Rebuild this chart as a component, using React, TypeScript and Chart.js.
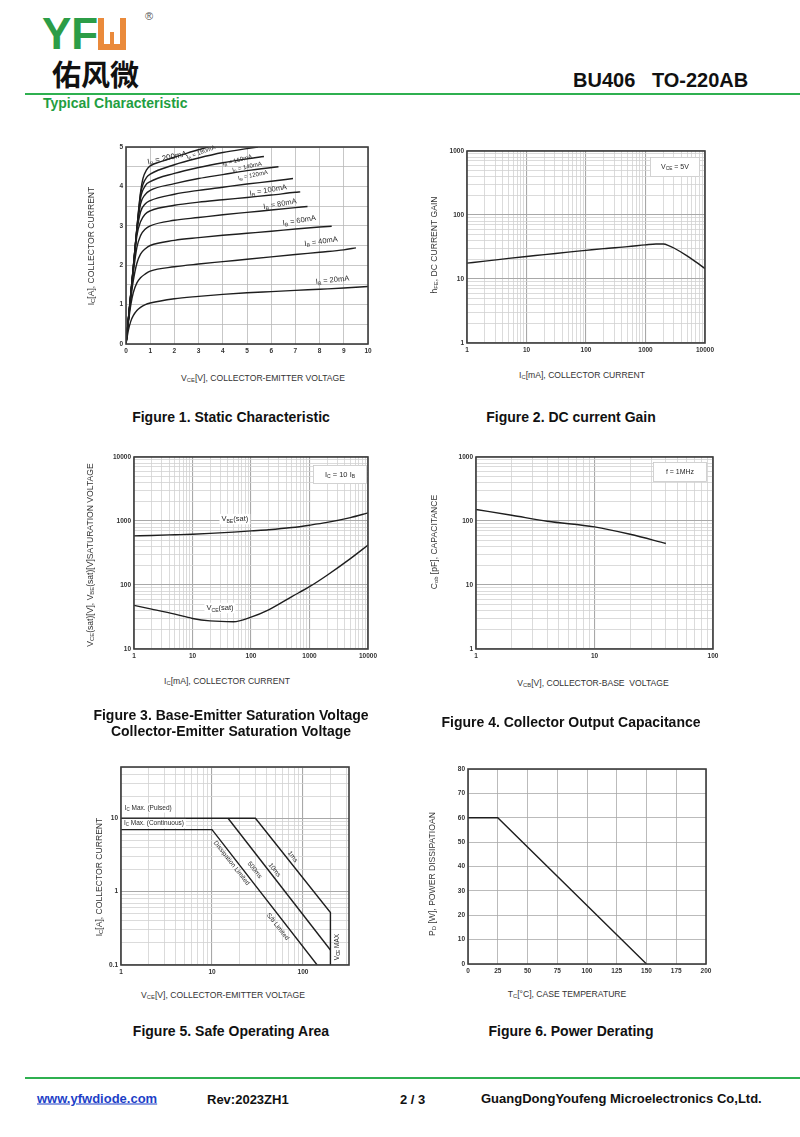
import React, { useEffect, useRef } from 'react';
import Chart from 'chart.js/auto';

const FONT = '"Liberation Sans", Arial, Helvetica, sans-serif';
const CJK = '"Noto Sans CJK SC", "Noto Sans CJK TC", sans-serif';

// ---------------- Figure 1: static characteristic (VCE [V], IC [A]) ----------------
const fig1Ib20 = [[0, 0], [0.1, 0.35], [0.2, 0.58], [0.3, 0.72], [0.45, 0.85], [0.6, 0.93], [0.8, 1.0], [1, 1.04], [2, 1.15], [3, 1.21], [4, 1.26], [5, 1.3], [6, 1.33], [7, 1.36], [8, 1.39], [9, 1.42], [10, 1.46]];
const fig1Ib40 = [[0, 0], [0.1, 0.55], [0.2, 1.0], [0.3, 1.3], [0.45, 1.55], [0.6, 1.68], [0.8, 1.78], [1, 1.85], [2, 1.96], [3, 2.03], [4, 2.09], [5, 2.15], [6, 2.21], [7, 2.27], [8, 2.33], [9, 2.39], [9.5, 2.44]];
const fig1Ib60 = [[0, 0], [0.1, 0.6], [0.2, 1.15], [0.3, 1.6], [0.45, 2.05], [0.6, 2.28], [0.8, 2.42], [1, 2.5], [2, 2.63], [3, 2.7], [4, 2.76], [5, 2.81], [6, 2.86], [7, 2.92], [8, 2.97], [8.5, 2.99]];
const fig1Ib80 = [[0, 0], [0.1, 0.62], [0.2, 1.22], [0.3, 1.8], [0.45, 2.45], [0.6, 2.75], [0.8, 2.92], [1, 3.0], [2, 3.14], [3, 3.21], [4, 3.28], [5, 3.34], [6, 3.4], [7, 3.46], [7.5, 3.49]];
const fig1Ib100 = [[0, 0], [0.1, 0.63], [0.2, 1.25], [0.3, 1.88], [0.45, 2.75], [0.6, 3.1], [0.8, 3.3], [1, 3.38], [2, 3.52], [3, 3.6], [4, 3.66], [5, 3.72], [6, 3.78], [7, 3.85], [7.2, 3.86]];
const fig1Ib120 = [[0, 0], [0.1, 0.63], [0.2, 1.26], [0.3, 1.9], [0.45, 2.85], [0.6, 3.35], [0.8, 3.56], [1, 3.64], [2, 3.8], [3, 3.9], [4, 3.98], [5, 4.06], [6, 4.13], [6.9, 4.2]];
const fig1Ib140 = [[0, 0], [0.1, 0.64], [0.2, 1.27], [0.3, 1.92], [0.45, 2.9], [0.6, 3.55], [0.8, 3.8], [1, 3.9], [2, 4.07], [3, 4.2], [4, 4.3], [5, 4.4], [6.3, 4.5]];
const fig1Ib160 = [[0, 0], [0.1, 0.64], [0.2, 1.28], [0.3, 1.93], [0.45, 2.92], [0.6, 3.7], [0.8, 4.02], [1, 4.12], [2, 4.33], [3, 4.48], [4, 4.6], [5, 4.7], [5.7, 4.76]];
const fig1Ib180 = [[0, 0], [0.1, 0.65], [0.2, 1.29], [0.3, 1.94], [0.45, 2.93], [0.6, 3.8], [0.7, 4.05], [0.85, 4.23], [1, 4.31], [2, 4.55], [3, 4.72], [4, 4.86], [5, 4.96], [5.45, 5.0]];
const fig1Ib200 = [[0, 0], [0.1, 0.65], [0.2, 1.3], [0.3, 1.95], [0.45, 2.95], [0.6, 3.85], [0.7, 4.2], [0.85, 4.42], [1, 4.52], [1.5, 4.64], [2, 4.74], [2.5, 4.84], [3, 4.93], [3.4, 5.0]];
const fig1Curves = [fig1Ib20, fig1Ib40, fig1Ib60, fig1Ib80, fig1Ib100, fig1Ib120, fig1Ib140, fig1Ib160, fig1Ib180, fig1Ib200];
const fig1LabelText = ['200mA', '180mA', '160mA', '140mA', '120mA', '100mA', '80mA', '60mA', '40mA', '20mA'];
const fig1LabelV = [1.7, 3.1, 4.6, 5.0, 5.25, 5.88, 6.36, 7.16, 8.06, 8.53];
const fig1LabelI = [4.72, 4.86, 4.66, 4.49, 4.28, 3.9, 3.55, 3.13, 2.6, 1.62];
const fig1LabelRot = [-12, -20, -15, -13, -12, -10, -10, -9, -8, -6];
const fig1XTicks = [0, 1, 2, 3, 4, 5, 6, 7, 8, 9, 10];
const fig1YTicks = [0, 0.5, 1, 1.5, 2, 2.5, 3, 3.5, 4, 4.5, 5];
const fig1YLabels = [0, 1, 2, 3, 4, 5];

// ---------------- Figure 2: DC current gain ----------------
const fig2Ic = [1, 2, 5, 10, 20, 50, 100, 200, 500, 1000, 1500, 2000, 2500, 3000, 5000, 7000, 10000];
const fig2Hfe = [17.7, 19, 21, 22.5, 24, 26.3, 28, 29.8, 32, 34.2, 35.3, 35.2, 33, 30.5, 23, 18.5, 14.5];
const decadeTicks1to10000 = [1, 2, 3, 4, 5, 6, 7, 8, 9, 10, 20, 30, 40, 50, 60, 70, 80, 90, 100, 200, 300, 400, 500, 600, 700, 800, 900, 1000, 2000, 3000, 4000, 5000, 6000, 7000, 8000, 9000, 10000];
const decadeLabels1to10000 = [1, 10, 100, 1000, 10000];
const decadeTicks1to1000 = [1, 2, 3, 4, 5, 6, 7, 8, 9, 10, 20, 30, 40, 50, 60, 70, 80, 90, 100, 200, 300, 400, 500, 600, 700, 800, 900, 1000];
const decadeLabels1to1000 = [1, 10, 100, 1000];

// ---------------- Figure 3: saturation voltages ----------------
const fig3Ic = [1, 2, 5, 10, 20, 50, 100, 200, 500, 1000, 2000, 5000, 10000];
const fig3Vbe = [586, 595, 610, 622, 640, 670, 700, 730, 790, 860, 950, 1130, 1340];
const fig3Vce = [48, 42, 35, 30, 27.5, 26.7, 31.5, 41, 66, 94, 142, 258, 420];
const decadeTicks10to10000 = [10, 20, 30, 40, 50, 60, 70, 80, 90, 100, 200, 300, 400, 500, 600, 700, 800, 900, 1000, 2000, 3000, 4000, 5000, 6000, 7000, 8000, 9000, 10000];
const decadeLabels10to10000 = [10, 100, 1000, 10000];

// ---------------- Figure 4: output capacitance ----------------
const fig4Vcb = [1, 2, 4, 10, 20, 40];
const fig4Cob = [151, 123, 99, 81, 62, 44.5];
const decadeTicks1to100 = [1, 2, 3, 4, 5, 6, 7, 8, 9, 10, 20, 30, 40, 50, 60, 70, 80, 90, 100];
const decadeLabels1to100 = [1, 10, 100];

// ---------------- Figure 5: safe operating area ----------------
const soa1msV = [1, 30, 200, 200];
const soa1msI = [10, 10, 0.52, 0.1];
const soa10msV = [15, 200];
const soa10msI = [10, 0.16];
const soaDcV = [1, 10, 143];
const soaDcI = [7, 7, 0.1];
const fig5XTicks = [1, 2, 3, 4, 5, 6, 7, 8, 9, 10, 20, 30, 40, 50, 60, 70, 80, 90, 100, 200, 300];
const fig5XLabels = [1, 10, 100];
const fig5YTicks = [0.1, 0.2, 0.3, 0.4, 0.5, 0.6, 0.7, 0.8, 0.9, 1, 2, 3, 4, 5, 6, 7, 8, 9, 10, 20, 30, 40, 50];
const fig5YLabels = [0.1, 1, 10];

// ---------------- Figure 6: power derating ----------------
const fig6Tc = [0, 25, 150];
const fig6Pd = [60, 60, 0];
const fig6XTicks = [0, 25, 50, 75, 100, 125, 150, 175, 200];
const fig6YTicks = [0, 10, 20, 30, 40, 50, 60, 70, 80];

// ---------------- layout ----------------
const PAD_L = 40, PAD_T = 10, PAD_R = 24, PAD_B = 22;

type Seg = [string, boolean?];

function drawSegs(ctx: any, segs: Seg[], size: number, cx: number, cy: number, rot: number, bg: boolean, align: string) {
  ctx.save();
  ctx.translate(cx, cy);
  ctx.rotate((rot * Math.PI) / 180);
  const widths = segs.map(([t, sub]) => {
    ctx.font = `${sub ? size * 0.68 : size}px ${FONT}`;
    return ctx.measureText(t).width;
  });
  const total = widths.reduce((a, b) => a + b, 0);
  let x = align === 'center' ? -total / 2 : 0;
  if (bg) {
    ctx.fillStyle = '#fff';
    ctx.fillRect(x - 2, -size * 0.7, total + 4, size * 1.4);
  }
  ctx.fillStyle = '#2a2a2a';
  ctx.textBaseline = 'middle';
  ctx.textAlign = 'left';
  segs.forEach(([t, sub], i) => {
    ctx.font = `${sub ? size * 0.68 : size}px ${FONT}`;
    ctx.fillText(t, x, sub ? size * 0.28 : 0);
    x += widths[i];
  });
  ctx.restore();
}

function annotPlugin(texts: any[], boxes: any[]) {
  return {
    id: 'annot',
    afterDatasetsDraw(chart: any) {
      const ctx = chart.ctx;
      const ca = chart.chartArea;
      const xs = chart.scales.x;
      const ys = chart.scales.y;
      boxes.forEach((b) => {
        const x0 = ca.right - b.right - b.w;
        const y0 = ca.top + b.top;
        ctx.save();
        ctx.fillStyle = '#fff';
        ctx.fillRect(x0, y0, b.w, b.h);
        ctx.strokeStyle = '#c8c8c8';
        ctx.lineWidth = 0.8;
        ctx.strokeRect(x0 + 0.5, y0 + 0.5, b.w - 1, b.h - 1);
        ctx.restore();
        drawSegs(ctx, b.segs, b.size, x0 + b.w / 2, y0 + b.h / 2, 0, false, 'center');
      });
      texts.forEach((t) => {
        drawSegs(ctx, t.segs, t.size, xs.getPixelForValue(t.x), ys.getPixelForValue(t.y), t.rot || 0, !!t.bg, t.align || 'center');
      });
    },
    afterDraw(chart: any) {
      const ca = chart.chartArea;
      const ctx = chart.ctx;
      ctx.save();
      ctx.strokeStyle = '#3c3c3c';
      ctx.lineWidth = 1.6;
      ctx.strokeRect(ca.left, ca.top, ca.right - ca.left, ca.bottom - ca.top);
      ctx.restore();
    },
  };
}

function fmt(v: number) {
  return String(v);
}

function makeScale(axisId: string, type: string, min: number, max: number, tickVals: number[], labelVals: number[], majorVals: number[], minorColor: string, majorColor: string) {
  return {
    type,
    min,
    max,
    position: axisId === 'x' ? 'bottom' : 'left',
    afterBuildTicks: (s: any) => {
      s.ticks = tickVals.map((v) => ({ value: v }));
    },
    afterFit: (s: any) => {
      if (axisId === 'x') s.height = PAD_B;
      else s.width = PAD_L;
    },
    grid: {
      drawTicks: false,
      color: (c: any) => (c.tick && majorVals.includes(c.tick.value) ? majorColor : minorColor),
      lineWidth: (c: any) => (c.tick && majorVals.includes(c.tick.value) ? 1.1 : 0.8),
    },
    border: { display: false },
    ticks: {
      autoSkip: false,
      maxRotation: 0,
      minRotation: 0,
      padding: 3,
      color: '#333',
      font: { family: FONT, size: 6.5, weight: 'bold' },
      callback: (v: any) => (labelVals.includes(v) ? fmt(v) : ''),
    },
  };
}

function lineSet(points: { x: number; y: number }[], smooth: boolean) {
  return {
    data: points,
    showLine: true,
    borderColor: '#1e1e1e',
    borderWidth: 1.4,
    pointRadius: 0,
    fill: false,
    cubicInterpolationMode: smooth ? 'monotone' : 'default',
    tension: 0,
  };
}

function zip(xs: number[], ys: number[]) {
  return xs.map((x, i) => ({ x, y: ys[i] }));
}

function baseConfig(datasets: any[], xScale: any, yScale: any, texts: any[], boxes: any[]) {
  return {
    type: 'scatter',
    data: { datasets },
    options: {
      animation: false,
      responsive: false,
      layout: { padding: { left: 0, top: PAD_T, right: PAD_R, bottom: 0 } },
      plugins: { legend: { display: false }, tooltip: { enabled: false } },
      scales: { x: xScale, y: yScale },
      elements: { point: { radius: 0 } },
    },
    plugins: [annotPlugin(texts, boxes)],
  };
}

const ib = (t: string): Seg[] => [['I'], ['B', true], [' = ' + t]];

function fig1Config() {
  const ds = fig1Curves.map((c) => lineSet(c.map(([x, y]) => ({ x, y })), true));
  const texts = fig1LabelText.map((t, i) => ({
    x: fig1LabelV[i],
    y: fig1LabelI[i],
    segs: ib(t),
    size: i === 0 ? 8 : i < 5 ? 6 : 7.5,
    rot: fig1LabelRot[i],
  }));
  return baseConfig(
    ds,
    makeScale('x', 'linear', 0, 10, fig1XTicks, fig1XTicks, [], '#b9b9b9', '#b9b9b9'),
    makeScale('y', 'linear', 0, 5, fig1YTicks, fig1YLabels, [], '#b9b9b9', '#b9b9b9'),
    texts,
    []
  );
}

function fig2Config() {
  return baseConfig(
    [lineSet(zip(fig2Ic, fig2Hfe), true)],
    makeScale('x', 'logarithmic', 1, 10000, decadeTicks1to10000, decadeLabels1to10000, decadeLabels1to10000, '#d2d2d2', '#a8a8a8'),
    makeScale('y', 'logarithmic', 1, 1000, decadeTicks1to1000, decadeLabels1to1000, decadeLabels1to1000, '#d2d2d2', '#a8a8a8'),
    [],
    [{ right: 5, top: 6, w: 50, h: 20, size: 7, segs: [['V'], ['CE', true], [' = 5V']] }]
  );
}

function fig3Config() {
  return baseConfig(
    [lineSet(zip(fig3Ic, fig3Vbe), true), lineSet(zip(fig3Ic, fig3Vce), true)],
    makeScale('x', 'logarithmic', 1, 10000, decadeTicks1to10000, decadeLabels1to10000, decadeLabels1to10000, '#d2d2d2', '#a8a8a8'),
    makeScale('y', 'logarithmic', 10, 10000, decadeTicks10to10000, decadeLabels10to10000, decadeLabels10to10000, '#d2d2d2', '#a8a8a8'),
    [
      { x: 53, y: 1070, segs: [['V'], ['BE', true], ['(sat)']], size: 7.5, bg: true },
      { x: 29.5, y: 43.7, segs: [['V'], ['CE', true], ['(sat)']], size: 7.5, bg: true },
    ],
    [{ right: 1, top: 8, w: 54, h: 19, size: 7.5, segs: [['I'], ['C', true], [' = 10 I'], ['B', true]] }]
  );
}

function fig4Config() {
  return baseConfig(
    [lineSet(zip(fig4Vcb, fig4Cob), true)],
    makeScale('x', 'logarithmic', 1, 100, decadeTicks1to100, decadeLabels1to100, decadeLabels1to100, '#d2d2d2', '#a8a8a8'),
    makeScale('y', 'logarithmic', 1, 1000, decadeTicks1to1000, decadeLabels1to1000, decadeLabels1to1000, '#d2d2d2', '#a8a8a8'),
    [],
    [{ right: 6, top: 5, w: 54, h: 20, size: 7, segs: [['f = 1MHz']] }]
  );
}

function fig5Config() {
  const texts = [
    { x: 1.1, y: 13.8, segs: [['I'], ['C', true], [' Max. (Pulsed)']], size: 6.5, bg: true, align: 'left' },
    { x: 1.08, y: 8.5, segs: [['I'], ['C', true], [' Max. (Continuous)']], size: 6.5, bg: true, align: 'left' },
    { x: 16.4, y: 2.45, segs: [['Dissipation Limited']], size: 6.5, rot: 52 },
    { x: 29.4, y: 1.97, segs: [['500ms']], size: 6.5, rot: 52 },
    { x: 48.6, y: 1.97, segs: [['10ms']], size: 6.5, rot: 52 },
    { x: 77, y: 2.99, segs: [['1ms']], size: 6.5, rot: 52 },
    { x: 52.8, y: 0.333, segs: [['S/b Limited']], size: 6.5, rot: 52 },
    { x: 238, y: 0.176, segs: [['V'], ['CE', true], [' MAX']], size: 6.5, rot: -90 },
  ];
  return baseConfig(
    [lineSet(zip(soa1msV, soa1msI), false), lineSet(zip(soa10msV, soa10msI), false), lineSet(zip(soaDcV, soaDcI), false)],
    makeScale('x', 'logarithmic', 1, 320, fig5XTicks, fig5XLabels, fig5XLabels, '#d2d2d2', '#a8a8a8'),
    makeScale('y', 'logarithmic', 0.1, 50, fig5YTicks, fig5YLabels, fig5YLabels, '#d2d2d2', '#a8a8a8'),
    texts,
    []
  );
}

function fig6Config() {
  return baseConfig(
    [lineSet(zip(fig6Tc, fig6Pd), false)],
    makeScale('x', 'linear', 0, 200, fig6XTicks, fig6XTicks, [], '#a9a9a9', '#a9a9a9'),
    makeScale('y', 'linear', 0, 80, fig6YTicks, fig6YTicks, [], '#a9a9a9', '#a9a9a9'),
    [],
    []
  );
}

function Plot({ left, top, width, height, build }: any) {
  const ref = useRef<HTMLCanvasElement>(null);
  const cw = width + PAD_L + PAD_R;
  const ch = height + PAD_T + PAD_B;
  useEffect(() => {
    const chart = new Chart(ref.current as any, build() as any);
    return () => chart.destroy();
  }, []);
  return (
    <canvas
      ref={ref}
      width={cw}
      height={ch}
      style={{ position: 'absolute', left: left - PAD_L, top: top - PAD_T, width: cw, height: ch, display: 'block' }}
    />
  );
}

const Sub = ({ children }: any) => <span style={{ fontSize: '0.68em', verticalAlign: '-0.25em' }}>{children}</span>;

function Txt({ x, y, size, bold, color, rot, children, anchor, family, underline }: any) {
  const tx = anchor === 'left' ? 'translate(0,-50%)' : 'translate(-50%,-50%)';
  return (
    <div
      style={{
        position: 'absolute',
        left: x,
        top: y,
        transform: tx + (rot ? ` rotate(${rot}deg)` : ''),
        fontSize: size,
        fontWeight: bold ? 700 : 400,
        color: color || '#222',
        whiteSpace: 'pre',
        fontFamily: family || FONT,
        lineHeight: 1,
        textDecoration: underline ? 'underline' : 'none',
      }}
    >
      {children}
    </div>
  );
}

const AX = 8.6;
const AXC = '#333';

export default function App() {
  useEffect(() => {
    document.body.style.margin = '0';
  }, []);
  return (
    <div style={{ position: 'absolute', left: 0, top: 0, width: 800, height: 1137, background: '#fff', overflow: 'hidden', fontFamily: FONT }}>
      {/* logo */}
      <Txt x={42} y={34} size={44} bold color="#2c9d47" anchor="left">YF</Txt>
      <div style={{ position: 'absolute', left: 98, top: 18, width: 6, height: 32, background: '#ea8a3b' }} />
      <div style={{ position: 'absolute', left: 120, top: 18, width: 6, height: 32, background: '#ea8a3b' }} />
      <div style={{ position: 'absolute', left: 98, top: 44, width: 28, height: 6, background: '#ea8a3b' }} />
      <div style={{ position: 'absolute', left: 110, top: 32, width: 4, height: 13, background: '#ea8a3b' }} />
      <Txt x={149} y={16} size={11} color="#555">®</Txt>
      <Txt x={52} y={73} size={29} bold color="#111" anchor="left" family={CJK}>佑风微</Txt>
      <Txt x={573} y={80} size={20} bold color="#111" anchor="left">BU406   TO-220AB</Txt>
      <div style={{ position: 'absolute', left: 25, top: 93, width: 775, height: 2, background: '#2fb050' }} />
      <Txt x={43} y={103} size={14} bold color="#1f9e41" anchor="left">Typical Characteristic</Txt>

      {/* charts */}
      <Plot left={126} top={147} width={242} height={197} build={fig1Config} />
      <Plot left={467} top={151} width={238} height={192} build={fig2Config} />
      <Plot left={134} top={457} width={234} height={192} build={fig3Config} />
      <Plot left={476} top={457} width={237} height={192} build={fig4Config} />
      <Plot left={121} top={767} width={228} height={198} build={fig5Config} />
      <Plot left={468} top={769} width={238} height={195} build={fig6Config} />

      {/* axis titles */}
      <Txt x={263} y={379} size={AX} color={AXC}>V<Sub>CE</Sub>[V], COLLECTOR-EMITTER VOLTAGE</Txt>
      <Txt x={92} y={246} size={AX} color={AXC} rot={-90}>I<Sub>C</Sub>[A], COLLECTOR CURRENT</Txt>
      <Txt x={582} y={376} size={AX} color={AXC}>I<Sub>C</Sub>[mA], COLLECTOR CURRENT</Txt>
      <Txt x={435} y={245} size={AX} color={AXC} rot={-90}>h<Sub>FE</Sub>, DC CURRENT GAIN</Txt>
      <Txt x={227} y={682} size={AX} color={AXC}>I<Sub>C</Sub>[mA], COLLECTOR CURRENT</Txt>
      <Txt x={91} y={555} size={AX} color={AXC} rot={-90}>V<Sub>CE</Sub>(sat)[V], V<Sub>BE</Sub>(sat)[V]SATURATION VOLTAGE</Txt>
      <Txt x={593} y={684} size={AX} color={AXC}>V<Sub>CB</Sub>[V], COLLECTOR-BASE  VOLTAGE</Txt>
      <Txt x={435} y={542} size={AX} color={AXC} rot={-90}>C<Sub>ob</Sub> [pF], CAPACITANCE</Txt>
      <Txt x={223} y={996} size={AX} color={AXC}>V<Sub>CE</Sub>[V], COLLECTOR-EMITTER VOLTAGE</Txt>
      <Txt x={100} y={877} size={AX} color={AXC} rot={-90}>I<Sub>C</Sub>[A], COLLECTOR CURRENT</Txt>
      <Txt x={567} y={995} size={AX} color={AXC}>T<Sub>C</Sub>[°C], CASE TEMPERATURE</Txt>
      <Txt x={433} y={874} size={AX} color={AXC} rot={-90}>P<Sub>D</Sub> [W], POWER DISSIPATIOAN</Txt>

      {/* captions */}
      <Txt x={231} y={417} size={14} bold color="#111">Figure 1. Static Characteristic</Txt>
      <Txt x={571} y={417} size={14} bold color="#111">Figure 2. DC current Gain</Txt>
      <Txt x={231} y={715} size={14} bold color="#111">Figure 3. Base-Emitter Saturation Voltage</Txt>
      <Txt x={231} y={731} size={14} bold color="#111">Collector-Emitter Saturation Voltage</Txt>
      <Txt x={571} y={722} size={14} bold color="#111">Figure 4. Collector Output Capacitance</Txt>
      <Txt x={231} y={1031} size={14} bold color="#111">Figure 5. Safe Operating Area</Txt>
      <Txt x={571} y={1031} size={14} bold color="#111">Figure 6. Power Derating</Txt>

      {/* footer */}
      <div style={{ position: 'absolute', left: 25, top: 1077, width: 775, height: 2, background: '#2fb050' }} />
      <Txt x={37} y={1098} size={13} bold color="#1d3fc7" anchor="left" underline>www.yfwdiode.com</Txt>
      <Txt x={207} y={1099} size={13} bold color="#111" anchor="left">Rev:2023ZH1</Txt>
      <Txt x={400} y={1099} size={13} bold color="#111" anchor="left">2 / 3</Txt>
      <Txt x={481} y={1098} size={13} bold color="#111" anchor="left">GuangDongYoufeng Microelectronics Co,Ltd.</Txt>
    </div>
  );
}
